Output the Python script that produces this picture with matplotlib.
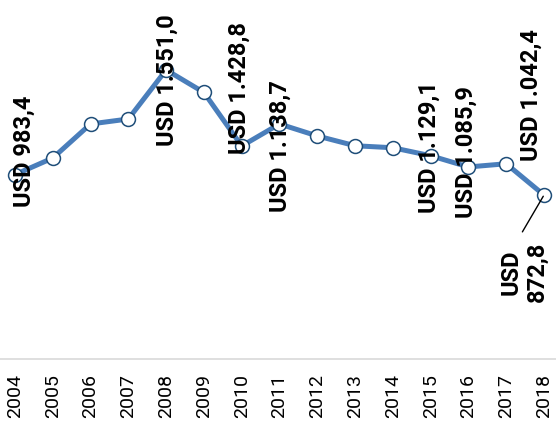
import matplotlib
matplotlib.use("Agg")
import matplotlib.pyplot as plt

years = ["2004", "2005", "2006", "2007", "2008", "2009", "2010", "2011",
         "2012", "2013", "2014", "2015", "2016", "2017", "2018"]
values = [983.4, 1073.5, 1258.0, 1285.0, 1551.0, 1428.8, 1138.7, 1258.0,
          1193.0, 1140.0, 1129.1, 1085.9, 1025.0, 1042.4, 872.8]

# labelled points: index, text
label_idx = [0, 4, 5, 6, 10, 11, 13, 14]
label_txt = ["USD 983,4", "USD 1.551,0", "USD 1.428,8", "USD 1.138,7",
             "USD 1.129,1", "USD 1.085,9", "USD 1.042,4", "USD\n872,8"]
# offsets in pixels (styling)
label_off = [(9, 23), (1, -10), (35, 4), (39, 0), (36, 1), (36, 4), (25, 69), (-20, -77)]

fig = plt.figure(figsize=(5.56, 4.21), dpi=100)
ax = fig.add_axes([0, 62 / 421, 1, 359 / 421])

x = list(range(len(years)))
ax.plot(x, values, color="#4a7ebb", lw=3.6, solid_joinstyle="round", zorder=2)
ax.plot(x, values, ls="none", marker="o", ms=10, mfc="white", mec="#1f4e79",
        mew=1.1, zorder=3)

ax.set_xlim(-0.397, 14.318)
ax.set_ylim(-16, 1930)

for spine in ["top", "left", "right"]:
    ax.spines[spine].set_visible(False)
ax.spines["bottom"].set_color("#d9d9d9")
ax.spines["bottom"].set_linewidth(1.2)
ax.set_yticks([])
ax.set_xticks(x)
ax.set_xticklabels(years, rotation=90, fontsize=14, fontfamily="Roboto", color="black")
ax.tick_params(axis="x", length=0, pad=11)

for i, t, (dx, dy) in zip(label_idx, label_txt, label_off):
    if i == 14:
        ax.annotate(t, xy=(i, values[i]), xytext=(dx, dy), textcoords="offset pixels",
                    rotation=90, ha="center", va="center", multialignment="center",
                    fontsize=17, fontweight="bold", fontfamily="Roboto",
                    linespacing=1.2,
                    arrowprops=dict(arrowstyle="-", color="black", lw=1.0,
                                    shrinkA=6, shrinkB=1, relpos=(0.35, 1.0)),
                    zorder=4)
    else:
        ax.annotate(t, xy=(i, values[i]), xytext=(dx, dy), textcoords="offset pixels",
                    rotation=90, ha="center", va="center",
                    fontsize=17, fontweight="bold", fontfamily="Roboto", zorder=4)

fig.savefig("out.png", dpi=100)
